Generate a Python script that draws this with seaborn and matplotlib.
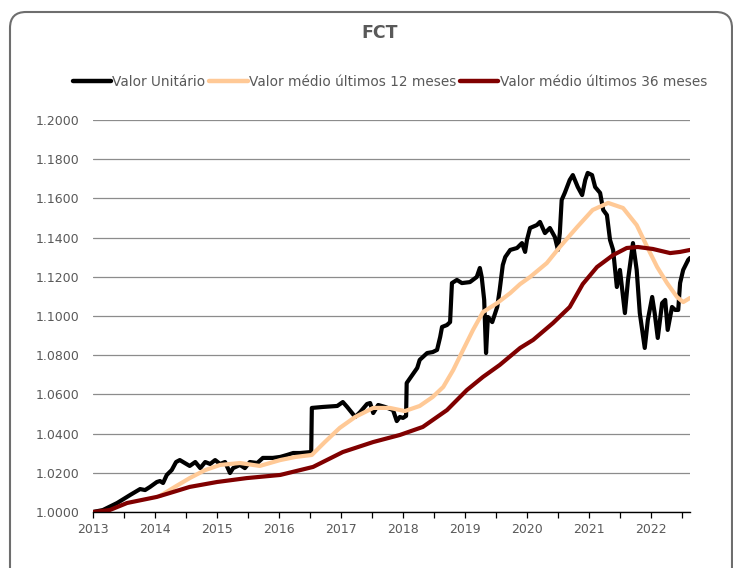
import pandas as pd
import matplotlib.pyplot as plt
import seaborn as sns
from matplotlib.patches import FancyBboxPatch
from matplotlib.ticker import MultipleLocator, FormatStrFormatter

# --- data ---
unit_years = [2013.00, 2013.16, 2013.39, 2013.60, 2013.76, 2013.84, 2013.92, 2014.03, 2014.08, 2014.13,
              2014.19, 2014.27, 2014.34, 2014.40, 2014.48, 2014.56, 2014.65, 2014.73, 2014.81, 2014.89,
              2014.97, 2015.05, 2015.13, 2015.21, 2015.26, 2015.37, 2015.45, 2015.53, 2015.65, 2015.74,
              2015.90, 2016.02, 2016.13, 2016.23, 2016.34, 2016.52, 2016.53, 2016.71, 2016.94, 2017.03,
              2017.10, 2017.18, 2017.23, 2017.31, 2017.42, 2017.47, 2017.52, 2017.60, 2017.71, 2017.84,
              2017.90, 2017.95, 2018.00, 2018.05, 2018.06, 2018.15, 2018.23, 2018.27, 2018.39, 2018.48,
              2018.55, 2018.60, 2018.63, 2018.71, 2018.76, 2018.79, 2018.87, 2018.95, 2019.08, 2019.19,
              2019.24, 2019.27, 2019.31, 2019.34, 2019.37, 2019.44, 2019.52, 2019.56, 2019.61, 2019.65,
              2019.73, 2019.84, 2019.92, 2019.97, 2020.00, 2020.05, 2020.16, 2020.21, 2020.29, 2020.37,
              2020.45, 2020.50, 2020.53, 2020.56, 2020.61, 2020.69, 2020.74, 2020.82, 2020.89, 2020.94,
              2020.98, 2021.05, 2021.10, 2021.18, 2021.23, 2021.29, 2021.34, 2021.39, 2021.45, 2021.50,
              2021.58, 2021.63, 2021.71, 2021.77, 2021.82, 2021.90, 2021.95, 2022.02, 2022.06, 2022.11,
              2022.18, 2022.23, 2022.27, 2022.34, 2022.39, 2022.44, 2022.47, 2022.52, 2022.60, 2022.63]
unit_values = [1.0000, 1.0010, 1.0046, 1.0087, 1.0117, 1.0112, 1.0128, 1.0153, 1.0158, 1.0148,
               1.0189, 1.0214, 1.0255, 1.0265, 1.0250, 1.0235, 1.0255, 1.0224, 1.0255, 1.0245,
               1.0265, 1.0245, 1.0255, 1.0199, 1.0224, 1.0240, 1.0224, 1.0255, 1.0250, 1.0276,
               1.0276, 1.0281, 1.0291, 1.0301, 1.0301, 1.0306, 1.0531, 1.0536, 1.0541, 1.0561,
               1.0536, 1.0505, 1.0485, 1.0510, 1.0551, 1.0556, 1.0505, 1.0546, 1.0536, 1.0520,
               1.0464, 1.0485, 1.0480, 1.0490, 1.0658, 1.0699, 1.0735, 1.0776, 1.0811, 1.0816,
               1.0827, 1.0893, 1.0944, 1.0954, 1.0969, 1.1168, 1.1184, 1.1168, 1.1173, 1.1199,
               1.1245, 1.1199, 1.1082, 1.0811, 1.0995, 1.0969, 1.1046, 1.1133, 1.1260, 1.1301,
               1.1337, 1.1347, 1.1372, 1.1327, 1.1388, 1.1449, 1.1464, 1.1480, 1.1423, 1.1449,
               1.1403, 1.1337, 1.1423, 1.1592, 1.1628, 1.1694, 1.1719, 1.1658, 1.1617, 1.1694,
               1.1730, 1.1719, 1.1658, 1.1628, 1.1541, 1.1515, 1.1388, 1.1337, 1.1148, 1.1235,
               1.1015, 1.1184, 1.1372, 1.1235, 1.1015, 1.0837, 1.0980, 1.1097, 1.1015, 1.0888,
               1.1066, 1.1082, 1.0929, 1.1046, 1.1031, 1.1031, 1.1168, 1.1235, 1.1286, 1.1296]

avg12_years = [2014.08, 2014.32, 2014.56, 2014.81, 2015.05, 2015.37, 2015.69, 2016.02, 2016.27, 2016.53,
               2016.74, 2016.98, 2017.23, 2017.52, 2017.79, 2018.03, 2018.27, 2018.48, 2018.65, 2018.81,
               2018.97, 2019.13, 2019.29, 2019.52, 2019.73, 2019.89, 2020.05, 2020.32, 2020.53, 2020.81,
               2021.06, 2021.31, 2021.55, 2021.77, 2021.94, 2022.10, 2022.26, 2022.42, 2022.52, 2022.63]
avg12_values = [1.0082, 1.0128, 1.0173, 1.0214, 1.0240, 1.0250, 1.0235, 1.0265, 1.0281, 1.0291,
                1.0357, 1.0429, 1.0485, 1.0531, 1.0531, 1.0515, 1.0541, 1.0587, 1.0638, 1.0724,
                1.0827, 1.0929, 1.1020, 1.1066, 1.1117, 1.1163, 1.1199, 1.1270, 1.1352, 1.1454,
                1.1541, 1.1577, 1.1551, 1.1464, 1.1352, 1.1250, 1.1168, 1.1097, 1.1071, 1.1092]

avg36_years = [2013.00, 2013.27, 2013.55, 2014.03, 2014.24, 2014.56, 2015.00, 2015.48, 2016.02, 2016.55,
               2017.03, 2017.52, 2017.95, 2018.32, 2018.71, 2019.03, 2019.29, 2019.56, 2019.89, 2020.10,
               2020.42, 2020.69, 2020.90, 2021.13, 2021.39, 2021.61, 2021.79, 2022.03, 2022.31, 2022.47,
               2022.63]
avg36_values = [1.0000, 1.0010, 1.0046, 1.0077, 1.0097, 1.0128, 1.0153, 1.0173, 1.0189, 1.0230,
                1.0306, 1.0357, 1.0393, 1.0434, 1.0520, 1.0622, 1.0689, 1.0750, 1.0837, 1.0878,
                1.0964, 1.1046, 1.1163, 1.1250, 1.1311, 1.1347, 1.1352, 1.1342, 1.1321, 1.1327,
                1.1337]

year_ticks = list(range(2013, 2023))
series_names = ['Valor Unitário', 'Valor médio últimos 12 meses', 'Valor médio últimos 36 meses']
series_colors = ['#000000', '#FFC996', '#800000']

# long-form table for seaborn
df = pd.concat([
    pd.DataFrame({'ano': unit_years, 'valor': unit_values, 'serie': series_names[0]}),
    pd.DataFrame({'ano': avg12_years, 'valor': avg12_values, 'serie': series_names[1]}),
    pd.DataFrame({'ano': avg36_years, 'valor': avg36_values, 'serie': series_names[2]}),
])

sns.set_style('white')
plt.rcParams['font.family'] = ['DejaVu Sans']
text_grey = '#595959'

fig = plt.figure(figsize=(7.33, 5.68), dpi=100)
ax = fig.add_axes([93 / 733, 1 - 512 / 568, (690 - 93) / 733, (512 - 120) / 568])

sns.lineplot(data=df, x='ano', y='valor', hue='serie', hue_order=series_names,
             palette=series_colors, linewidth=3.0, estimator=None, sort=False,
             legend=False, ax=ax)
for line in ax.lines:
    line.set_solid_joinstyle('round')

ax.set_xlim(2013, 2022.63)
ax.set_ylim(1.0, 1.2)
ax.yaxis.set_major_locator(MultipleLocator(0.02))
ax.yaxis.set_major_formatter(FormatStrFormatter('%.4f'))
ax.set_xticks(year_ticks)
ax.xaxis.set_minor_locator(MultipleLocator(0.5))
ax.grid(axis='y', color='#8c8c8c', linewidth=0.9)
ax.set_axisbelow(True)
ax.set_xlabel('')
ax.set_ylabel('')

for side in ['top', 'right', 'left']:
    ax.spines[side].set_visible(False)
ax.spines['bottom'].set_color('#000000')
ax.spines['bottom'].set_linewidth(1.0)
ax.spines['bottom'].set_zorder(5)

ax.tick_params(axis='x', which='both', direction='out', length=4, width=0.9,
               color='#000000', labelsize=9, labelcolor=text_grey, pad=4, bottom=True)
ax.tick_params(axis='y', length=0, labelsize=9, labelcolor=text_grey, pad=10)

# title and legend
fig.text(380 / 733, 1 - 33 / 568, 'FCT', ha='center', va='center',
         fontsize=12.5, fontweight='bold', color=text_grey)
handles = [plt.Line2D([], [], color=c, linewidth=3.2) for c in series_colors]
leg = fig.legend(handles, series_names, loc='center', bbox_to_anchor=(390 / 733, 1 - 82 / 568),
                 ncol=3, frameon=False, fontsize=9.8, handlelength=2.8, handletextpad=0.1,
                 columnspacing=0.3)
for t in leg.get_texts():
    t.set_color(text_grey)

# rounded chart border
border = FancyBboxPatch((0.10, -0.5), 7.22, 6.06, boxstyle='round,pad=0,rounding_size=0.16',
                        transform=fig.dpi_scale_trans, facecolor='none',
                        edgecolor='#6e6e6e', linewidth=1.5)
fig.patches.append(border)

plt.savefig('out.png', dpi=100)
